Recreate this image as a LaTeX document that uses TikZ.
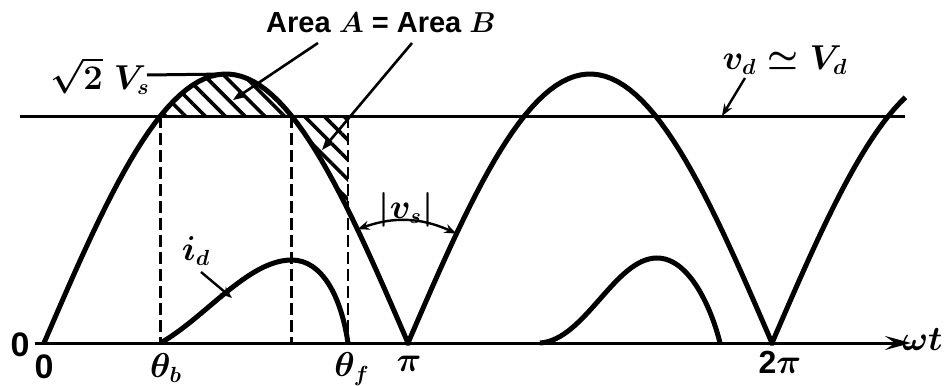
\documentclass[tikz,border=0pt]{standalone}
\usepackage{amsmath}
\usepackage{fontspec}
\setsansfont{Liberation Sans}
\usetikzlibrary{arrows.meta, patterns.meta, calc}

\begin{document}
\begin{tikzpicture}[x=0.5pt, y=-0.5pt,
      wave/.style={line width=2.5pt, line join=miter},
      lvl/.style={line width=1.5pt},
      guide/.style={line width=1.4pt, dash pattern=on 6pt off 2.5pt},
      hatch/.style={pattern={Lines[angle=-45, distance=7pt, line width=1.8pt]}},
      arr/.style={-{Stealth[length=6pt, width=4.5pt]}, line width=1.2pt},
      mlabel/.style={font=\fontsize{16}{18}\selectfont\boldmath, inner sep=1pt},
      tlabel/.style={font=\fontsize{14.5}{17}\selectfont\sffamily\bfseries\boldmath, inner sep=1pt},
      nlabel/.style={font=\fontsize{17}{19}\selectfont\sffamily\bfseries, inner sep=1pt}
  ]
    \useasboundingbox (0,0) rectangle (944,386);
    % waveform geometry in pixels: origin, pixels per degree, axis, peak, Vd level
    \pgfmathsetmacro{\xo}{44}
    \pgfmathsetmacro{\kx}{364/180}
    \pgfmathsetmacro{\yax}{343}
    \pgfmathsetmacro{\pk}{269}
    \pgfmathsetmacro{\yvd}{116}
    \pgfmathsetmacro{\thb}{asin((\yax-\yvd)/\pk)}
    \pgfmathsetmacro{\thc}{180-\thb}
    \pgfmathsetmacro{\thf}{(348-\xo)/\kx}

    \coordinate (tb)  at ({\xo+\kx*\thb}, \yax);
    \coordinate (tc)  at ({\xo+\kx*\thc}, \yax);
    \coordinate (tf)  at (348, \yax);
    \coordinate (tbv) at ({\xo+\kx*\thb}, \yvd);
    \coordinate (tcv) at ({\xo+\kx*\thc}, \yvd);
    \coordinate (tfv) at (348, \yvd);
    \coordinate (peak) at ({\xo+\kx*90}, {\yax-\pk});

    % Area A and Area B
    \fill[hatch] plot[domain=\thb:\thc, samples=40]
          ({\xo+\kx*\x}, {\yax-\pk*sin(\x)}) -- cycle;
    \fill[hatch] plot[domain=\thc:\thf, samples=20]
          ({\xo+\kx*\x}, {\yax-\pk*sin(\x)}) -- (tfv) -- cycle;

    \draw[guide] (tbv) -- (tb);
    \draw[guide] (tcv) -- (tc);
    \draw[guide] (tfv) -- (tf);

    % axis and dc level
    \draw[lvl, -{Stealth[length=13pt, width=7pt, inset=5pt]}] (35,\yax) -- (911,\yax);
    \draw[lvl] (20,\yvd) coordinate (vdl) -- (905,\yvd) coordinate (vdr);

    % rectified source voltage
    \draw[wave] plot[domain=0:180, samples=60] ({\xo+\kx*\x}, {\yax-\pk*sin(\x)})
          -- plot[domain=180:360, samples=60] ({\xo+\kx*\x}, {\yax+\pk*sin(\x)})
          -- plot[domain=360:426, samples=25] ({\xo+\kx*\x}, {\yax-\pk*sin(\x)});

    % current pulses
    \draw[wave] (tb) .. controls (205,318) and (248,260) .. (tc |- 0,260)
          .. controls (322,260) and (341,296) .. (tf);
    \draw[wave] (540,\yax) .. controls (585,340) and (615,258) .. (657,258)
          .. controls (690,258) and (712,310) .. (720,\yax);

    % labels
    \node[tlabel] (area) at (381,23) {Area $A$ = Area $B$};
    \node[mlabel] (pkv)  at (100,76) {$\sqrt{2}\;V_s$};
    \node[mlabel] (vd)   at (785,60) {$v_d \simeq V_d$};
    \node[mlabel] (id)   at (196,251) {$i_d$};
    \node[mlabel] (vs)   at (406,210) {$|v_s|$};
    \node[nlabel] (zl)   at (20,345) {0};
    \node[nlabel] (z0)   at (44,367) {0};
    \node[mlabel] (lb)   at (166,368) {$\theta_b$};
    \node[mlabel] (lf)   at (352,369) {$\theta_f$};
    \node[mlabel] (lpi)  at (409,364) {$\pi$};
    \node[mlabel] (l2pi) at (780,362) {\textsf{\bfseries 2}$\pi$};
    \node[mlabel, anchor=east, inner sep=0pt] (wt) at (943,340) {$\omega t$};

    \coordinate (ina)  at (233,100);
    \coordinate (inb)  at (322,150);
    \coordinate (ona)  at (318,43);
    \coordinate (onb)  at (412,43);
    \draw[arr, line width=1.3pt] (ona) -- (ina);
    \draw[arr, line width=1.3pt] (onb) -- (inb);
    \draw[lvl] (147,75) coordinate (pkl) -- (peak);
    \draw[arr] (745,78) -- (722,\yvd);
    \draw[arr] (201,272) -- (232,298);

    \coordinate (vsa) at ({\xo+\kx*155}, {\yax-\pk*sin(155)});
    \coordinate (vsb) at ({\xo+\kx*204}, {\yax+\pk*sin(204)});
    \draw[line width=1.2pt, {Stealth[length=6pt, width=4.5pt]}-{Stealth[length=6pt, width=4.5pt]}]
          (vsa) to[bend left=22] (vsb);
\end{tikzpicture}
\end{document}
